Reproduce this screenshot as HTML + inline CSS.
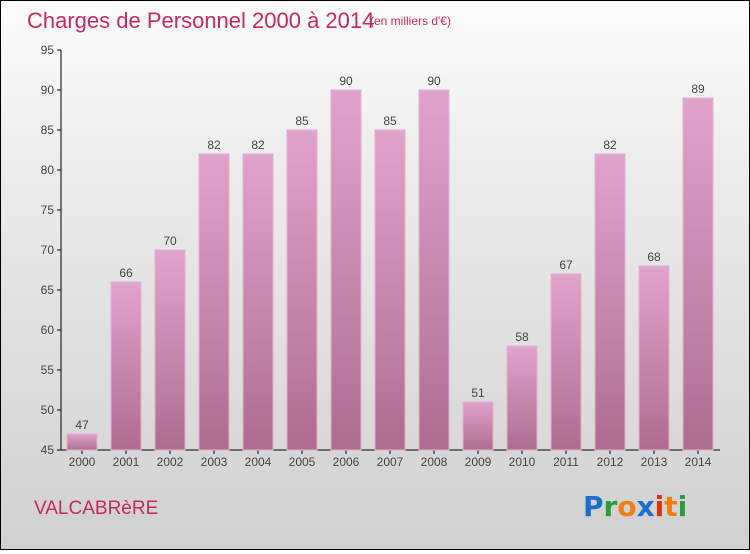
<!DOCTYPE html>
<html><head><meta charset="utf-8"><style>
html,body{margin:0;padding:0}
body{width:750px;height:550px;overflow:hidden;font-family:"Liberation Sans",sans-serif}
#wrap{position:relative;width:748px;height:548px;border:1px solid #000;background:linear-gradient(#fcfcfc,#ececec 30%,#d0d0d0)}
</style></head><body>
<div id="wrap">
<svg width="748" height="548" viewBox="1 1 748 548" id="svg">
<defs><linearGradient id="bg" x1="0" y1="0" x2="0" y2="1"><stop offset="0" stop-color="#e0a3cb"/><stop offset="1" stop-color="#ad6d91"/></linearGradient></defs>
<text x="27" y="28" font-size="22" fill="#c8285e">Charges de Personnel 2000 à 2014</text>
<text x="370" y="25" font-size="12" fill="#c8285e">(en milliers d'€)</text>
<text x="34" y="514" font-size="19" fill="#c8285e">VALCABRèRE</text>
<g font-size="28" font-weight="bold" font-family="'DejaVu Sans',sans-serif">
<text x="583" y="516"><tspan fill="#1a6fc8">P</tspan><tspan fill="#2a9a3a">r</tspan><tspan fill="#f08010">o</tspan><tspan fill="#1a6fc8">x</tspan><tspan fill="#e03010">i</tspan><tspan fill="#f08010">t</tspan><tspan fill="#2a9a3a">i</tspan></text></g>
<g id="axes"></g><g id="bars"></g>
</svg></div>
<script>
const years=["2000","2001","2002","2003","2004","2005","2006","2007","2008","2009","2010","2011","2012","2013","2014"];
const values=[47,66,70,82,82,85,90,85,90,51,58,67,82,68,89];
const yTicks=[45,50,55,60,65,70,75,80,85,90,95];
const NS="http://www.w3.org/2000/svg";
function y(v){return 450-(v-45)*8;}
function x(i){return 82+i*44;}
const axes=document.getElementById('axes'),bars=document.getElementById('bars');
function mk(t,a,p){const e=document.createElementNS(NS,t);for(const k in a)e.setAttribute(k,a[k]);p.appendChild(e);return e;}
let l=mk('line',{x1:61,y1:50,x2:61,y2:450,stroke:'#000'},axes);


l=mk('line',{x1:61,y1:450,x2:720,y2:450,stroke:'#000'},axes);


yTicks.forEach(v=>{mk('line',{x1:57,y1:y(v),x2:61,y2:y(v),stroke:'#000'},axes);
const t=mk('text',{x:54,y:y(v)+4,'text-anchor':'end','font-size':12,fill:'#444'},axes);t.textContent=v;

});
years.forEach((yr,i)=>{const v=values[i];
const r=mk('rect',{x:x(i)-15,y:y(v),width:30,height:450-y(v),fill:'url(#bg)',stroke:'#e8b0d4','stroke-width':1},bars);


mk('line',{x1:x(i),y1:450,x2:x(i),y2:454,stroke:'#000'},axes);
const t=mk('text',{x:x(i),y:466,'text-anchor':'middle','font-size':12,fill:'#444'},axes);t.textContent=yr;


const vl=mk('text',{x:x(i),y:y(v)-5,'text-anchor':'middle','font-size':12,fill:'#444'},bars);vl.textContent=v;

});
</script>
</body></html>
